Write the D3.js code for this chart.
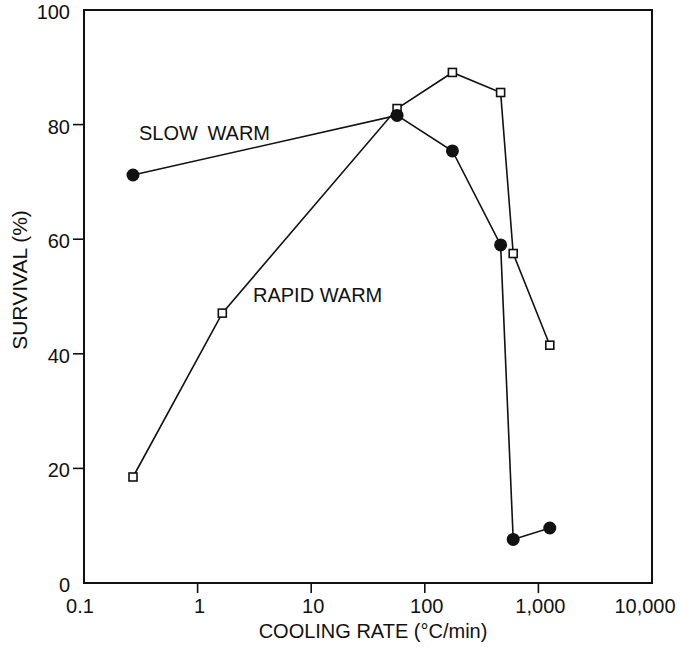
<!DOCTYPE html>
<html>
<head>
<meta charset="utf-8">
<script src="https://cdn.jsdelivr.net/npm/d3@7"></script>
<style>
html,body{margin:0;padding:0;background:#fff;}
text{font-family:"Liberation Sans",Arial,sans-serif;fill:#111;}
</style>
</head>
<body>
<svg id="chart" width="680" height="648"></svg>
<script>
// Data
const slowRate = [0.27, 57, 175, 465, 600, 1260];
const slowSurvival = [71.2, 81.6, 75.4, 59.0, 7.6, 9.6];
const rapidRate = [0.27, 1.65, 57, 175, 465, 600, 1260];
const rapidSurvival = [18.5, 47.1, 82.8, 89.1, 85.6, 57.5, 41.5];
const xTicks = [0.1, 1, 10, 100, 1000, 10000];
const xTickLabels = ["0.1", "1", "10", "100", "1,000", "10,000"];
const yTicks = [0, 20, 40, 60, 80, 100];
const yTickLabels = ["0", "20", "40", "60", "80", "100"];
const seriesLabels = ["SLOW WARM", "RAPID WARM"];
const xTitle = "COOLING RATE (°C/min)";
const yTitle = "SURVIVAL (%)";

const svg = d3.select("#chart");
const L = 84, R = 652, T = 10, B = 583;
const x = d3.scaleLog().domain([0.1, 10000]).range([L, R]);
const y = d3.scaleLinear().domain([0, 100]).range([B, T]);

// frame
svg.append("rect").attr("x", L).attr("y", T).attr("width", R - L).attr("height", B - T)
  .attr("fill", "none").attr("stroke", "#111").attr("stroke-width", 2);

// x ticks
svg.selectAll(".xt").data(xTicks.filter(d => d > 0.1 && d < 10000)).enter().append("line")
  .attr("x1", d => x(d)).attr("x2", d => x(d)).attr("y1", B).attr("y2", B + 10)
  .attr("stroke", "#111").attr("stroke-width", 1.6);
svg.selectAll(".xl").data(xTicks).enter().append("text")
  .attr("x", (d, i) => x(d) + (i === 0 ? -4 : i === xTicks.length - 1 ? -7 : 2))
  .attr("y", 613).attr("text-anchor", "middle").attr("font-size", 20)
  .text((d, i) => xTickLabels[i]);

// y ticks
svg.selectAll(".yt").data(yTicks.filter(d => d > 0 && d < 100)).enter().append("line")
  .attr("x1", L - 11).attr("x2", L).attr("y1", d => y(d)).attr("y2", d => y(d))
  .attr("stroke", "#111").attr("stroke-width", 1.6);
svg.selectAll(".yl").data(yTicks).enter().append("text")
  .attr("x", 70).attr("y", d => y(d) + 9).attr("text-anchor", "end").attr("font-size", 20)
  .text((d, i) => yTickLabels[i]);

// axis titles
svg.append("text").attr("x", (257 + 489) / 2).attr("y", 638).attr("text-anchor", "middle")
  .attr("font-size", 20).text(xTitle);
svg.append("text").attr("transform", "translate(27,280) rotate(-90)")
  .attr("text-anchor", "middle").attr("font-size", 21).text(yTitle);

const line = d3.line().x(d => x(d[0])).y(d => y(d[1]));
const rapid = rapidRate.map((r, i) => [r, rapidSurvival[i]]);
const slow = slowRate.map((r, i) => [r, slowSurvival[i]]);

svg.append("path").attr("d", line(rapid)).attr("fill", "none").attr("stroke", "#111").attr("stroke-width", 1.6);
svg.append("path").attr("d", line(slow)).attr("fill", "none").attr("stroke", "#111").attr("stroke-width", 1.6);

svg.selectAll(".sq").data(rapid).enter().append("rect")
  .attr("x", d => x(d[0]) - 4).attr("y", d => y(d[1]) - 4).attr("width", 8).attr("height", 8)
  .attr("fill", "#fff").attr("stroke", "#111").attr("stroke-width", 1.6);
svg.selectAll(".ci").data(slow).enter().append("circle")
  .attr("cx", d => x(d[0])).attr("cy", d => y(d[1])).attr("r", 6.5).attr("fill", "#111");

// series labels
svg.append("text").attr("x", 139).attr("y", 140).attr("font-size", 20)
  .attr("word-spacing", 4).text(seriesLabels[0]);
svg.append("text").attr("x", 253).attr("y", 302).attr("font-size", 20).text(seriesLabels[1]);
</script>
</body>
</html>
